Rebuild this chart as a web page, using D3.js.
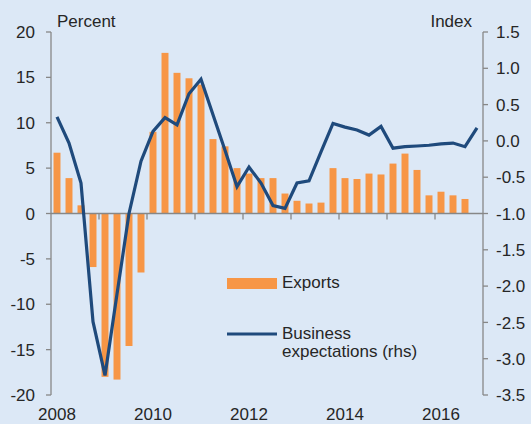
<!DOCTYPE html>
<html>
<head>
<meta charset="utf-8">
<script src="https://cdn.jsdelivr.net/npm/d3@7"></script>
<style>
  html, body { margin: 0; padding: 0; background: #dce8f6; }
  svg { display: block; font-family: "Liberation Sans", Arial, sans-serif; }
</style>
</head>
<body>
<div id="chart"></div>
<script>
// quarters 2008Q1 .. 2016Q4
var years = [2008, 2009, 2010, 2011, 2012, 2013, 2014, 2015, 2016]
var quarters = []
years.forEach(function(y) { [1, 2, 3, 4].forEach(function(q) { quarters.push(y + "Q" + q) }) })

// Exports, percent (lhs)
var exportsPct = [
	6.7, 3.9, 0.9, -5.9,
	-18.0, -18.3, -14.6, -6.5,
	9.0, 17.7, 15.5, 14.9,
	14.2, 8.2, 7.4, 5.0,
	4.4, 3.9, 3.9, 2.2,
	1.4, 1.1, 1.2, 5.0,
	3.9, 3.8, 4.4, 4.3,
	5.5, 6.6, 4.8, 2.0,
	2.4, 2.0, 1.6
]

// Business expectations, index (rhs)
var businessIdx = [
	0.33, -0.03, -0.58, -2.49,
	-3.23, -2.11, -1.0, -0.28,
	0.13, 0.32, 0.22, 0.65,
	0.85, 0.36, -0.13, -0.63,
	-0.36, -0.58, -0.89, -0.93,
	-0.58, -0.55, -0.15, 0.24,
	0.19, 0.15, 0.08, 0.2,
	-0.1, -0.08, -0.07, -0.06,
	-0.04, -0.03, -0.08, 0.18
]

var leftTicks = [-20, -15, -10, -5, 0, 5, 10, 15, 20]
var rightTicks = [-3.5, -3.0, -2.5, -2.0, -1.5, -1.0, -0.5, 0.0, 0.5, 1.0, 1.5]
var yearLabels = [2008, 2010, 2012, 2014, 2016]

var width = 531, height = 424
var plot = {left: 51, right: 483, top: 32, bottom: 395}
var textCol = "#262626", axisCol = "#878787"
var orange = "#f79646", blue = "#1f4a7c"
var fs = 17

var svg = d3.select("#chart").append("svg")
	.attr("width", width)
	.attr("height", height)

svg.append("rect").attr("width", width).attr("height", height).attr("fill", "#dce8f6")

var x = d3.scaleBand().domain(quarters).range([plot.left, plot.right]).paddingInner(0.42).paddingOuter(0.21)
var xq = d3.scaleBand().domain(quarters).range([plot.left, plot.right])
var yL = d3.scaleLinear().domain([-20, 20]).range([plot.bottom, plot.top])
var yR = d3.scaleLinear().domain([-3.5, 1.5]).range([plot.bottom, plot.top])

// bars
svg.append("g").selectAll("rect")
	.data(exportsPct)
	.enter().append("rect")
	.attr("x", function(d, i) { return x(quarters[i]) })
	.attr("width", x.bandwidth())
	.attr("y", function(d) { return yL(Math.max(0, d)) })
	.attr("height", function(d) { return Math.abs(yL(d) - yL(0)) })
	.attr("fill", orange)

// zero line with year ticks
svg.append("line")
	.attr("x1", plot.left).attr("x2", plot.right)
	.attr("y1", yL(0)).attr("y2", yL(0))
	.attr("stroke", axisCol).attr("stroke-width", 1.3)

svg.append("g").selectAll("line")
	.data(years.slice(1))
	.enter().append("line")
	.attr("x1", function(d) { return xq(d + "Q1") })
	.attr("x2", function(d) { return xq(d + "Q1") })
	.attr("y1", yL(0)).attr("y2", yL(0) + 6)
	.attr("stroke", axisCol).attr("stroke-width", 1.3)

// line
var line = d3.line()
	.x(function(d, i) { return xq(quarters[i]) + xq.bandwidth() / 2 })
	.y(function(d) { return yR(d) })

svg.append("path")
	.datum(businessIdx)
	.attr("d", line)
	.attr("fill", "none")
	.attr("stroke", blue)
	.attr("stroke-width", 3.2)
	.attr("stroke-linejoin", "miter")

// left axis
var axisL = svg.append("g")
axisL.append("line")
	.attr("x1", plot.left).attr("x2", plot.left)
	.attr("y1", plot.top).attr("y2", plot.bottom)
	.attr("stroke", axisCol).attr("stroke-width", 1.3)
axisL.selectAll(".tk").data(leftTicks).enter().append("line")
	.attr("x1", plot.left - 5).attr("x2", plot.left)
	.attr("y1", function(d) { return yL(d) }).attr("y2", function(d) { return yL(d) })
	.attr("stroke", axisCol).attr("stroke-width", 1.3)
axisL.selectAll("text").data(leftTicks).enter().append("text")
	.attr("x", 35)
	.attr("y", function(d) { return yL(d) })
	.attr("dy", "0.36em")
	.attr("text-anchor", "end")
	.attr("font-size", fs)
	.attr("fill", textCol)
	.text(function(d) { return d })

// right axis
var axisR = svg.append("g")
axisR.append("line")
	.attr("x1", plot.right).attr("x2", plot.right)
	.attr("y1", plot.top).attr("y2", plot.bottom)
	.attr("stroke", axisCol).attr("stroke-width", 1.3)
axisR.selectAll(".tk").data(rightTicks).enter().append("line")
	.attr("x1", plot.right).attr("x2", plot.right + 5)
	.attr("y1", function(d) { return yR(d) }).attr("y2", function(d) { return yR(d) })
	.attr("stroke", axisCol).attr("stroke-width", 1.3)
axisR.selectAll("text").data(rightTicks).enter().append("text")
	.attr("x", 496)
	.attr("y", function(d) { return yR(d) })
	.attr("dy", "0.36em")
	.attr("font-size", fs)
	.attr("fill", textCol)
	.text(function(d) { return d.toFixed(1) })

// year labels
svg.append("g").selectAll("text")
	.data(yearLabels)
	.enter().append("text")
	.attr("x", function(d) { return xq(d + "Q1") + xq.bandwidth() / 2 })
	.attr("y", 420)
	.attr("text-anchor", "middle")
	.attr("font-size", fs)
	.attr("fill", textCol)
	.text(function(d) { return d })

// unit labels
svg.append("text").attr("x", 57).attr("y", 27).attr("font-size", fs).attr("fill", textCol).text("Percent")
svg.append("text").attr("x", 472).attr("y", 27).attr("text-anchor", "end").attr("font-size", fs).attr("fill", textCol).text("Index")

// legend
var legend = svg.append("g")
legend.append("rect").attr("x", 227).attr("y", 278).attr("width", 50).attr("height", 11).attr("fill", orange)
legend.append("text").attr("x", 282).attr("y", 288).attr("font-size", fs).attr("fill", textCol).text("Exports")
legend.append("line").attr("x1", 227).attr("x2", 277).attr("y1", 334).attr("y2", 334)
	.attr("stroke", blue).attr("stroke-width", 3)
legend.append("text").attr("x", 282).attr("y", 339).attr("font-size", fs).attr("fill", textCol).text("Business")
legend.append("text").attr("x", 282).attr("y", 357).attr("font-size", fs).attr("fill", textCol).text("expectations (rhs)")
</script>
</body>
</html>
